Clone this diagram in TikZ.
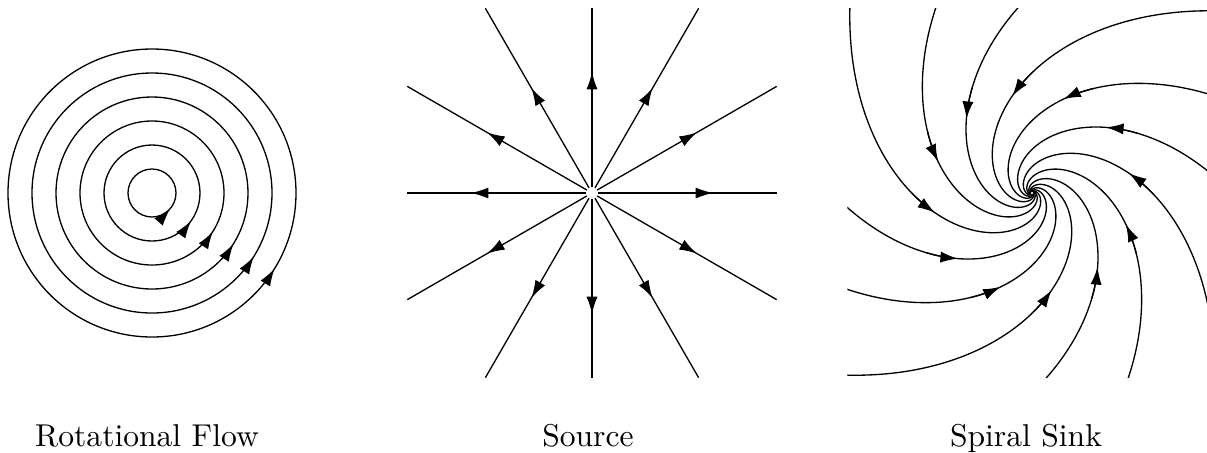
\documentclass[tikz,border=0pt]{standalone}
\usetikzlibrary{arrows.meta,decorations.markings}
\begin{document}
\begin{tikzpicture}[x=0.304pt,y=0.304pt,
  lbl/.style={anchor=base, inner sep=0pt, font=\fontsize{9.6pt}{11pt}\selectfont},
  tipend/.style={-{Latex[length=5.3pt,width=3.4pt]}},
  flowarrow/.style={postaction={decorate},
    decoration={markings, mark=at position #1 with {\arrow{Latex[length=5.3pt,width=3.4pt]}}}}]
\useasboundingbox (0,0) rectangle (1207,452);

% ---------- Rotational flow ----------
\coordinate (L) at (152,259);
\foreach \r/\p in {24/0.886, 48/0.901, 72/0.910, 96/0.911, 120/0.911, 144/0.912}
  \draw[flowarrow=\p] (L) circle[radius=\r];

% ---------- Source ----------
\coordinate (M) at (592,259);
\begin{scope}[shift={(M)}]
\foreach \a in {0,30,...,330} {
  \pgfmathsetmacro{\L}{184.7/max(abs(cos(\a)),abs(sin(\a)))}
  \draw[flowarrow=34.96pt] (\a:6) -- (\a:\L);
}
\end{scope}

% ---------- Spiral sink ----------
\coordinate (S) at (1032,259);
\begin{scope}
\clip (847.3,74.3) rectangle (1216.7,443.7);
\begin{scope}[shift={(S)}]
\foreach \j in {0,...,11} {
  \pgfmathsetmacro{\a}{101.5+30*\j}
  \pgfmathsetmacro{\aS}{\a-66}
  \pgfmathsetmacro{\aT}{\a-12}
  \pgfmathsetmacro{\aE}{\a+250}
  \draw plot[domain=\aS:\aE, samples=300, smooth]
    ({\x}:{99*exp(-0.97*(\x-\a)*pi/180)});
  \draw[tipend] plot[domain=\aT:\a, samples=7, smooth]
    ({\x}:{99*exp(-0.97*(\x-\a)*pi/180)});
}
\end{scope}
\end{scope}

% ---------- Labels ----------
\node[lbl] (tRot) at (147,5.3) {Rotational Flow};
\node[lbl] (tSrc) at (588,5.3) {Source};
\node[lbl] (tSnk) at (1026,5.3) {Spiral Sink};
\end{tikzpicture}
\end{document}
